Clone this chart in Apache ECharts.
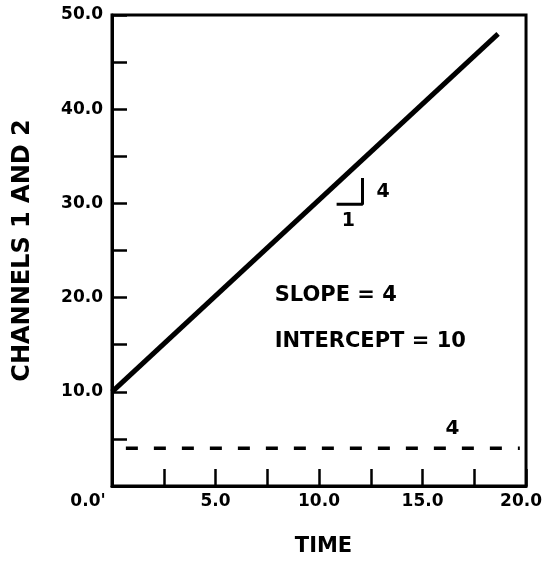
<!DOCTYPE html>
<html>
<head>
<meta charset="utf-8">
<script src="https://cdn.jsdelivr.net/npm/echarts@6/dist/echarts.min.js"></script>
<style>html,body{margin:0;padding:0;background:#fff;}#c{width:545px;height:562px;}</style>
</head>
<body>
<div id="c"></div>
<script>
// Data
const xTickLabels = {0: "0.0'", 5: '5.0', 10: '10.0', 15: '15.0', 20: '20.0'};
const yTickLabels = {10: '10.0', 20: '20.0', 30: '30.0', 40: '40.0', 50: '50.0'};
const channelLine = [[0, 10], [18.65, 48]];          // solid line (slope/intercept)
const constantLine = [[0.67, 4], [19.7, 4]];         // dashed line at 4
const slopeTriangle = [[10.85, 29.9], [12.1, 29.9], [12.1, 32.7]];
const triangleLabels = [{text: '1', pos: [11.42, 28.1]}, {text: '4', pos: [13.1, 31.25]}];
const noteLabels = [{text: 'SLOPE = 4', pos: [7.86, 20.2]}, {text: 'INTERCEPT = 10', pos: [7.86, 15.3]}];
const dashLabel = [{text: '4', pos: [16.45, 6.1]}];

const FONT = 'DejaVu Sans';
const chart = echarts.init(document.getElementById('c'), null, {renderer: 'canvas'});

function textSeries(items, size, align) {
  return {
    type: 'scatter', symbolSize: 0, silent: true, z: 5,
    itemStyle: {color: '#000', opacity: 1},
    data: items.map(d => ({value: d.pos, name: d.text})),
    label: {
      show: true, position: 'inside', formatter: p => p.name,
      color: '#000', opacity: 1, textBorderWidth: 0, fontFamily: FONT, fontWeight: 'bold', fontSize: size,
      align: align, verticalAlign: 'middle'
    }
  };
}

chart.setOption({
  animation: false,
  backgroundColor: '#fff',
  grid: {left: 112, right: 18, top: 15, bottom: 67, show: true, borderColor: '#000', borderWidth: 3, containLabel: false},
  xAxis: {
    type: 'value', min: 0, max: 20, interval: 2.5,
    name: 'TIME', nameLocation: 'middle', nameGap: 50,
    nameTextStyle: {color: '#000', fontFamily: FONT, fontWeight: 'bold', fontSize: 21, padding: [0, 0, 0, 9]},
    axisLine: {show: true, onZero: false, lineStyle: {color: '#000', width: 3}},
    axisTick: {show: true, inside: true, length: 17, lineStyle: {color: '#000', width: 2.5}},
    splitLine: {show: false},
    axisLabel: {
      show: true, margin: 7, showMinLabel: true, showMaxLabel: true, hideOverlap: false,
      color: '#000', fontFamily: FONT, fontWeight: 'bold', fontSize: 17,
      formatter: function (v) {
        const t = xTickLabels[v];
        if (t === undefined) return '';
        if (v === 0) return '{l|' + t + '}';
        if (v === 20) return '{r|' + t + '}';
        return t;
      },
      rich: {
        l: {color: '#000', fontFamily: FONT, fontWeight: 'bold', fontSize: 17, padding: [0, 48, 0, 0]},
        r: {color: '#000', fontFamily: FONT, fontWeight: 'bold', fontSize: 17, padding: [0, 10, 0, 0]}
      }
    }
  },
  yAxis: {
    type: 'value', min: 0, max: 50, interval: 5,
    name: 'CHANNELS 1 AND 2', nameLocation: 'middle', nameGap: 77,
    nameTextStyle: {color: '#000', fontFamily: FONT, fontWeight: 'bold', fontSize: 24},
    axisLine: {show: true, onZero: false, lineStyle: {color: '#000', width: 3}},
    axisTick: {show: true, inside: true, length: 15, lineStyle: {color: '#000', width: 2.5}},
    splitLine: {show: false},
    axisLabel: {
      show: true, margin: 9, showMinLabel: true, showMaxLabel: true, hideOverlap: false,
      color: '#000', fontFamily: FONT, fontWeight: 'bold', fontSize: 17,
      formatter: v => (yTickLabels[v] !== undefined ? yTickLabels[v] : '')
    }
  },
  series: [
    {type: 'line', data: channelLine, showSymbol: false, symbol: 'none', silent: true,
     lineStyle: {color: '#000', width: 5}, z: 3},
    {type: 'line', data: constantLine, showSymbol: false, symbol: 'none', silent: true,
     lineStyle: {color: '#000', width: 3.5, type: [12, 16]}, z: 3},
    {type: 'line', data: slopeTriangle, showSymbol: false, symbol: 'none', silent: true,
     lineStyle: {color: '#000', width: 3}, z: 3},
    textSeries(triangleLabels, 19, 'center'),
    textSeries(noteLabels, 21, 'left'),
    textSeries(dashLabel, 20, 'center')
  ]
});
</script>
</body>
</html>
